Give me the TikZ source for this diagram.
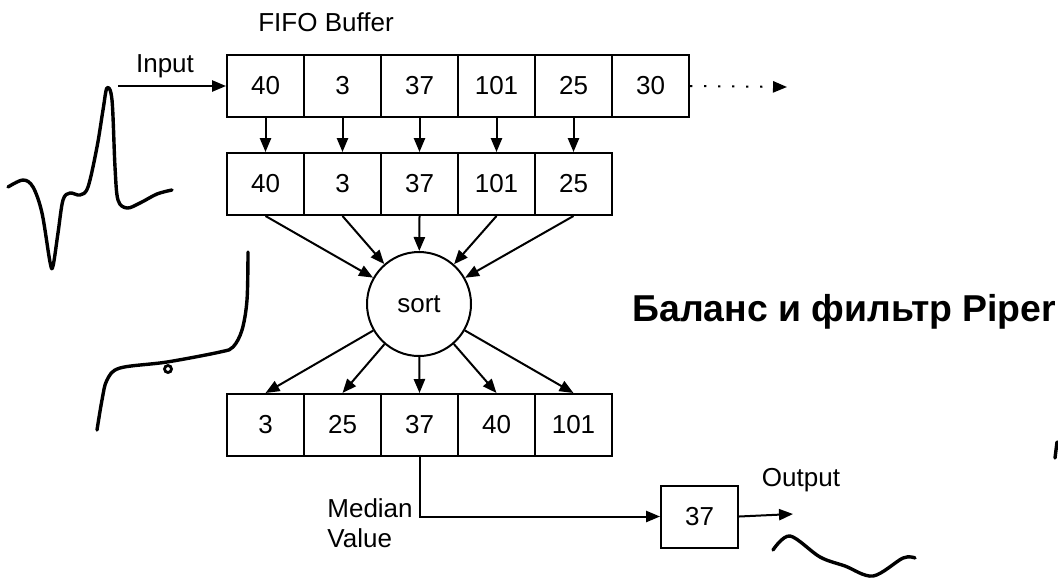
\documentclass[tikz,border=0pt]{standalone}
\usepackage{fontspec}
\setmainfont{Liberation Sans}
\usetikzlibrary{arrows.meta}

\tikzset{
	cell/.style={draw, line width=1pt, minimum width=38.5pt, minimum height=31pt, inner sep=0pt, font=\fontsize{13}{15}\selectfont},
	arr/.style={line width=1pt, -{Triangle[length=7pt,width=5.6pt]}},
	lbl/.style={font=\fontsize{13}{15}\selectfont},
	wave/.style={line width=1.7pt, line cap=round, line join=round},
}

\begin{document}
\begin{tikzpicture}[x=0.5pt, y=-0.5pt]
			\useasboundingbox (0,0) rectangle (1058,580);
			% buffer rows
			\foreach \v [count=\i] in {40,3,37,101,25,30} {
				\node[cell] (f\i) at (188.5+77*\i, 86) {\v};
			}
			\foreach \v [count=\i] in {40,3,37,101,25} {
				\node[cell] (w\i) at (188.5+77*\i, 184) {\v};
			}
			\foreach \v [count=\i] in {3,25,37,40,101} {
				\node[cell] (s\i) at (188.5+77*\i, 425) {\v};
			}
			\node[draw, circle, line width=1pt, minimum size=52pt, lbl] (sort) at (419, 304) {sort};
			\node[cell, minimum width=38.5pt] (out) at (699.5, 516.5) {37};
			% labels
			\node[lbl] (fifo) at (326, 22) {FIFO Buffer};
			\node[lbl] (inlbl) at (165, 66) {Input};
			\node[lbl] (outlbl) at (801, 480) {Output};
			\node[lbl, align=left, anchor=west, inner sep=0pt] (med) at (327, 523) {Median\\Value};
			\node[font=\fontsize{18.7}{21}\selectfont\bfseries, anchor=west, inner sep=0pt] (title) at (632, 312) {Баланс и фильтр Piper};
			% connectors
			\coordinate (inp) at (118, 86);
			\coordinate (dotend) at (787, 87);
			\coordinate (outend) at (793, 514);
			\draw[arr] (inp) -- (f1);
			\draw[arr, dash pattern=on 1.2pt off 5.8pt] (f6.east) -- (dotend);
			\foreach \i in {1,...,5} {
				\draw[arr] (f\i) -- (w\i);
				\draw[arr] (w\i.south) -- (sort);
				\draw[arr] (sort) -- (s\i.north);
			}
			\draw[arr] (s3.south) |- (out);
			\draw[arr] (out.east) -- (outend);
			% hand drawn signals
			\draw[wave] plot[smooth, tension=0.55] coordinates {(8,187) (23,180) (33,187) (42,213) (50,262) (53,266) (58,233) (63,200) (70,193) (80,195) (88,187) (97,147) (103,110) (107,88) (112,100) (115,167) (118,200) (127,208) (140,203) (157,194) (172,190)};
			\draw[wave] plot[smooth, tension=0.55] coordinates {(248,252) (247,300) (242,330) (233,347) (220,352) (167,362) (120,368) (107,380) (102,400) (97,430)};
			\draw[line width=1.4pt] (168,369) circle (3.5);
			\draw[wave] plot[smooth, tension=0.55] coordinates {(773,550) (790,536) (820,557) (845,566) (873,576) (903,558) (915,558)};
			\draw[wave] (1055,458) -- (1057,442);
		\end{tikzpicture}
\end{document}
